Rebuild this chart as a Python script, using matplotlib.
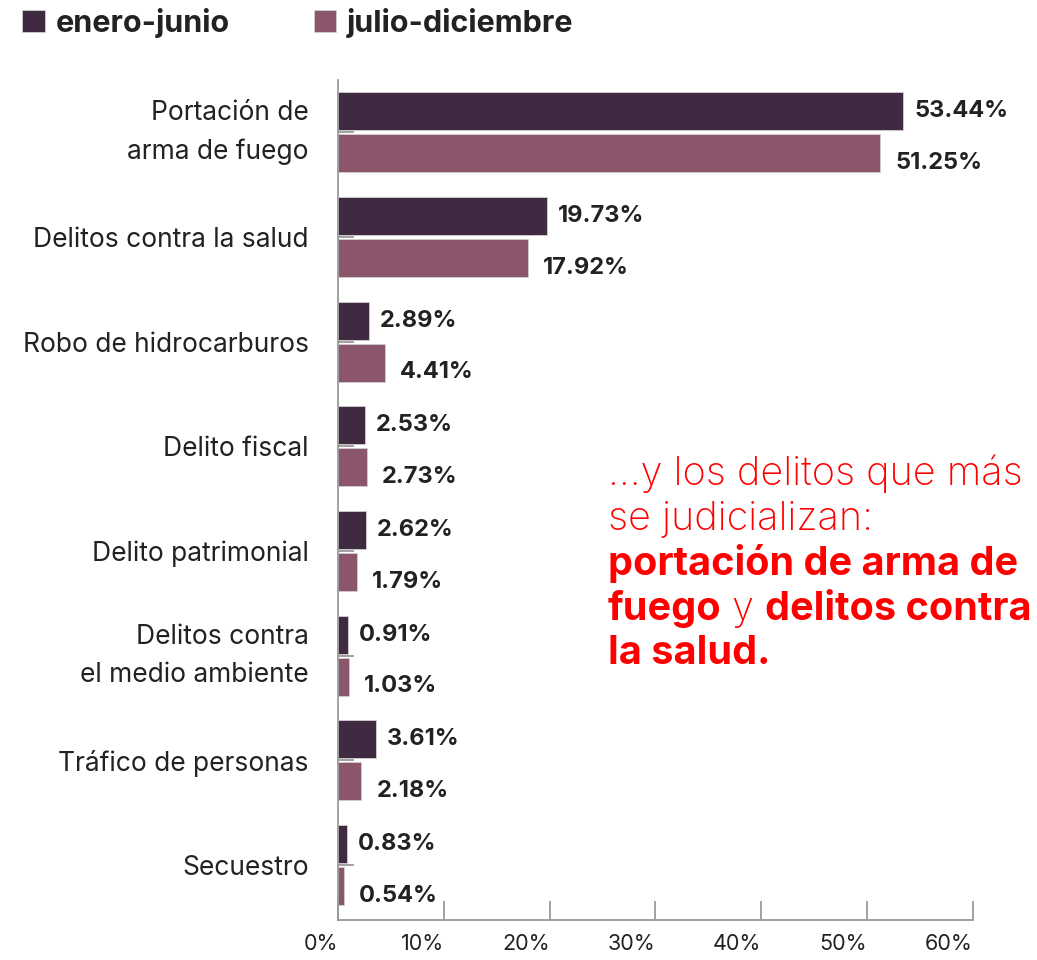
import numpy as np
import matplotlib.pyplot as plt

categories = ["Portación de\narma de fuego", "Delitos contra la salud", "Robo de hidrocarburos",
              "Delito fiscal", "Delito patrimonial", "Delitos contra\nel medio ambiente",
              "Tráfico de personas", "Secuestro"]
enero_junio = [53.44, 19.73, 2.89, 2.53, 2.62, 0.91, 3.61, 0.83]
julio_diciembre = [51.25, 17.92, 4.41, 2.73, 1.79, 1.03, 2.18, 0.54]
xticks = [0, 10, 20, 30, 40, 50, 60]

dark = "#402a42"
light = "#8b566b"
grey = "#9a9a9a"
txt = "#222222"
red = "#ff0000"

plt.rcParams['font.family'] = ['Inter', 'DejaVu Sans']

fig = plt.figure(figsize=(10.37, 9.6), dpi=100)
ax = fig.add_axes([0.326, 0.0417, 0.612, 0.875])

y = np.arange(len(categories))
h = 0.363
off = 0.2
ax.barh(y - off, enero_junio, height=h, color=dark, edgecolor="#cfcfcf", linewidth=0.6, label="enero-junio")
ax.barh(y + off, julio_diciembre, height=h, color=light, edgecolor="#cfcfcf", linewidth=0.6, label="julio-diciembre")

for i in range(len(categories)):
    ax.annotate(f"{enero_junio[i]:.2f}%", (enero_junio[i], y[i] - off), xytext=(8, 0),
                textcoords="offset points", va="center", ha="left",
                fontsize=17, fontweight="bold", color=txt)
    ax.annotate(f"{julio_diciembre[i]:.2f}%", (julio_diciembre[i], y[i] + off), xytext=(11, -7),
                textcoords="offset points", va="center", ha="left",
                fontsize=17, fontweight="bold", color=txt)

ax.set_xlim(0, 60)
ax.set_ylim(7.525, -0.5)
ax.set_yticks(y)
ax.set_yticklabels(categories, fontsize=19, color=txt, linespacing=1.6)
for lab in ax.get_yticklabels():
    if "\n" in lab.get_text():
        lab.set_verticalalignment("center")
ax.set_xticks(xticks)
ax.set_xticklabels([f"{t}%" for t in xticks], fontsize=15.5, color=txt, ha="right")
ax.tick_params(axis="x", direction="in", length=14, width=1.3, color=grey, pad=10)
ax.tick_params(axis="y", direction="in", length=11.5, width=1.3, color=grey, pad=21)
for s in ["top", "right"]:
    ax.spines[s].set_visible(False)
for s in ["left", "bottom"]:
    ax.spines[s].set_color(grey)
    ax.spines[s].set_linewidth(1.3)

fig.legend(loc="upper left", bbox_to_anchor=(0.021, 0.992), ncol=2, frameon=False,
           prop={"weight": "bold", "size": 22}, handlelength=0.75, handleheight=0.75,
           handletextpad=0.35, columnspacing=2.75, labelcolor=txt, borderpad=0, borderaxespad=0)

# annotation with mixed weights
fs = 28.5
x0 = 0.586
fig.text(x0, 0.4948, "...y los delitos que más", fontsize=fs, color=red, fontweight="light", va="baseline")
fig.text(x0, 0.4479, "se judicializan:", fontsize=fs, color=red, fontweight="light", va="baseline")
fig.text(x0, 0.4010, "portación de arma de", fontsize=fs, color=red, fontweight="bold", va="baseline")
t4 = fig.text(x0, 0.3540, "fuego", fontsize=fs, color=red, fontweight="bold", va="baseline")
t5 = ax.annotate(" y ", xy=(1, 0), xycoords=t4, va="bottom", fontsize=fs, color=red, fontweight="light")
ax.annotate("delitos contra", xy=(1, 0), xycoords=t5, va="bottom", fontsize=fs, color=red, fontweight="bold")
fig.text(x0, 0.3080, "la salud.", fontsize=fs, color=red, fontweight="bold", va="baseline")

fig.savefig("out.png", dpi=100)
